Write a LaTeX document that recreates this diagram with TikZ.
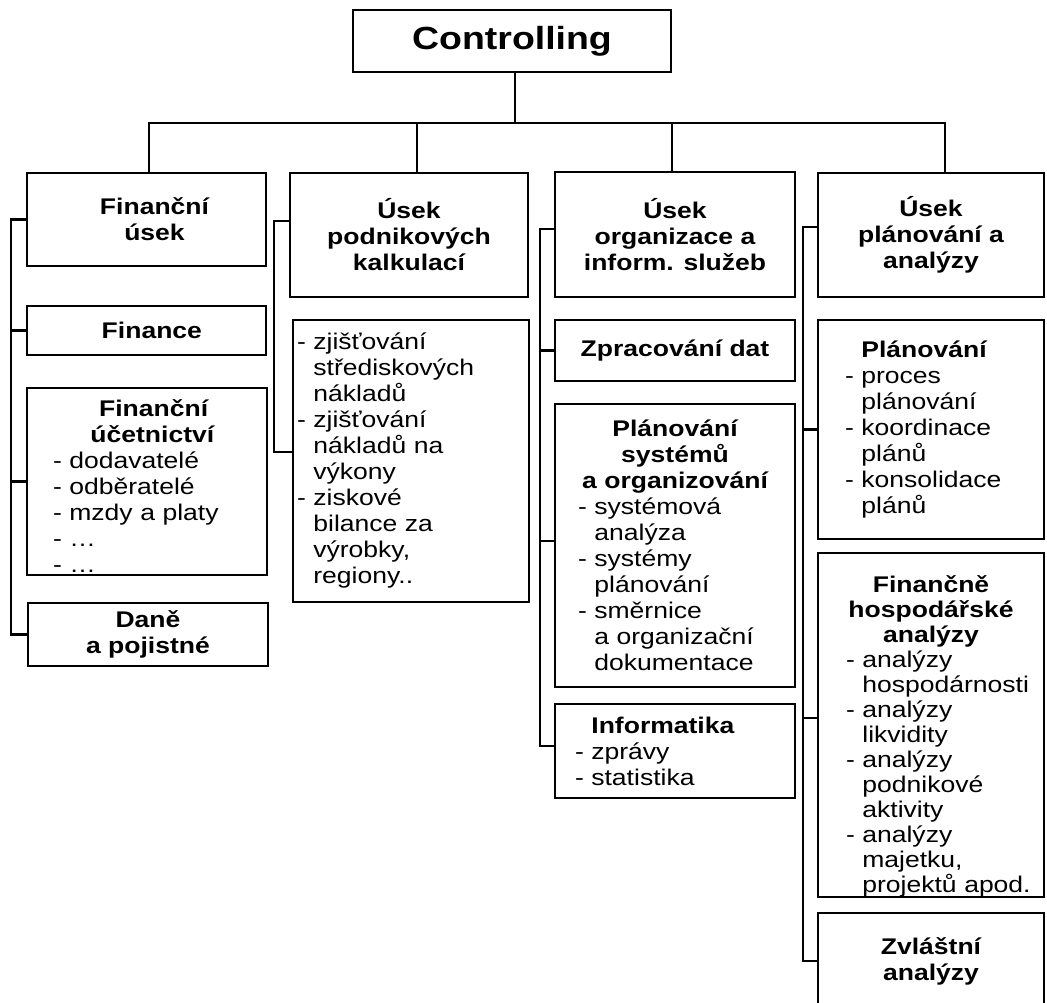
\documentclass[tikz,border=0pt]{standalone}
\usepackage{fontspec}
\setmainfont{Liberation Sans}[FakeStretch=1.17]
\usetikzlibrary{calc}
\newcommand{\indl}{\hphantom{- }}
\newcommand{\ctrl}[1]{\makebox[\hsize][c]{\bfseries #1}}
\begin{document}
\begin{tikzpicture}[x=0.75pt,y=-0.75pt,
  every node/.style={font=\fontsize{17pt}{19.5pt}\selectfont},
  bx/.style={draw, line width=1.5pt, inner sep=0pt, fill=white},
  hdr/.style={bx, align=center, font=\fontsize{17pt}{19.5pt}\selectfont\bfseries},
  lst/.style={bx, align=left},
  conn/.style={draw, line width=1.6pt, line join=miter}]
\useasboundingbox (0,0) rectangle (1047,1003);
\clip (0,0) rectangle (1047,1003);

% top
\node[hdr, minimum width=238.5pt, minimum height=46.5pt, font=\fontsize{24pt}{28pt}\selectfont\bfseries] (ctrl) at (512,41) {Controlling};

% column 1
\node[hdr, minimum width=179.25pt, minimum height=69.75pt] (h1) at (146.5,219.5) {\hspace*{12pt}Finanční\\\hspace*{12pt}úsek};
\node[hdr, minimum width=179.25pt, minimum height=36.75pt] (c1a) at (146.5,330.5) {\hspace*{8pt}Finance};
\node[lst, minimum width=180pt, minimum height=140.25pt, text width=141pt] (c1b) at (147,481.5)
  {\rule{0pt}{20pt}\ctrl{\hspace*{10pt}Finanční}\\\ctrl{\hspace*{8pt}účetnictví}\\- dodavatelé\\- odběratelé\\- mzdy a~platy\\- \ldots\\- \ldots};
\node[hdr, minimum width=180pt, minimum height=47.25pt] (c1c) at (148,634.5) {Daně\\a pojistné};

% column 2
\node[hdr, minimum width=178.5pt, minimum height=93pt] (h2) at (409,235) {Úsek\\podnikových\\kalkulací};
\node[lst, minimum width=177pt, minimum height=211.5pt, text width=171pt] (c2a) at (411,461)
  {- zjišťování\\\indl střediskových\\\indl nákladů\\- zjišťování\\\indl nákladů~na\\\indl výkony\\- ziskové\\\indl bilance~za\\\indl výrobky,\\\indl regiony..};

% column 3
\node[hdr, minimum width=180pt, minimum height=93.75pt] (h3) at (675,234.5) {Úsek\\organizace a\\inform. služeb};
\node[hdr, minimum width=180pt, minimum height=45.75pt] (c3a) at (675,350.5) {Zpracování dat};
\node[lst, minimum width=180pt, minimum height=212.25pt, text width=145.5pt] (c3b) at (675,545.5)
  {\ctrl{Plánování}\\\ctrl{systémů}\\\ctrl{a~organizování}\\- systémová\\\indl analýza\\- systémy\\\indl plánování\\- směrnice\\\indl a~organizační\\\indl dokumentace};
\node[lst, minimum width=180pt, minimum height=70.5pt, text width=150pt] (c3c) at (675,751)
  {\indl\textbf{Informatika}\\- zprávy\\- statistika};

% column 4
\node[hdr, minimum width=169.5pt, minimum height=93pt] (h4) at (931,235) {Úsek\\plánování a\\analýzy};
\node[lst, minimum width=169.5pt, minimum height=164.25pt, text width=129pt] (c4a) at (931,429.5)
  {\indl\textbf{Plánování}\\- proces\\\indl plánování\\- koordinace\\\indl plánů\\- konsolidace\\\indl plánů};
\node[lst, minimum width=169.5pt, minimum height=258pt, text width=127.5pt, font=\fontsize{17pt}{18.75pt}\selectfont] (c4b) at (931,725)
  {\rule{0pt}{30pt}\ctrl{Finančně}\\\ctrl{hospodářské}\\\ctrl{analýzy}\\- analýzy\\\indl hospodárnosti\\- analýzy\\\indl likvidity\\- analýzy\\\indl podnikové\\\indl aktivity\\- analýzy\\\indl majetku,\\\indl\mbox{projektů apod.}};
\node[hdr, minimum width=169.5pt, minimum height=72pt] (c4c) at (931,961) {Zvláštní\\analýzy};

% top bus
\coordinate (t0) at (515,123);
\coordinate (t1) at (149,123);
\coordinate (t2) at (417,123);
\coordinate (t3) at (672,123);
\coordinate (t4) at (945,123);
\path[conn] (ctrl.south -| t0) -- (t0);
\path[conn] (h1.north -| t1) -- (t1) -- (t4) -- (h4.north -| t4);
\path[conn] (t2) -- (h2.north -| t2);
\path[conn] (t3) -- (h3.north -| t3);

% side buses
\coordinate (s1) at (11,0);
\coordinate (s2) at (274,0);
\coordinate (s3) at (540,0);
\coordinate (s4) at (803,0);

\path[conn] (h1.west) -- (h1.west -| s1) |- (c1c.west);
\path[conn] (c1a.west) -- (c1a.west -| s1);
\path[conn] (c1b.west) -- (c1b.west -| s1);

\coordinate (p2a) at ($(h2.west)+(0,-14)$);
\coordinate (p2b) at ($(c2a.west)+(0,-9)$);
\path[conn] (p2a) -- (p2a -| s2) |- (p2b);

\coordinate (p3a) at ($(h3.west)+(0,-5.5)$);
\coordinate (p3c) at ($(c3b.west)+(0,-4.5)$);
\coordinate (p3d) at ($(c3c.west)+(0,-5)$);
\path[conn] (p3a) -- (p3a -| s3) |- (p3d);
\path[conn] (c3a.west) -- (c3a.west -| s3);
\path[conn] (p3c) -- (p3c -| s3);

\coordinate (p4a) at ($(h4.west)+(0,-8)$);
\coordinate (p4c) at ($(c4b.west)+(0,-7)$);
\path[conn] (p4a) -- (p4a -| s4) |- (c4c.west);
\path[conn] (c4a.west) -- (c4a.west -| s4);
\path[conn] (p4c) -- (p4c -| s4);
\end{tikzpicture}
\end{document}
